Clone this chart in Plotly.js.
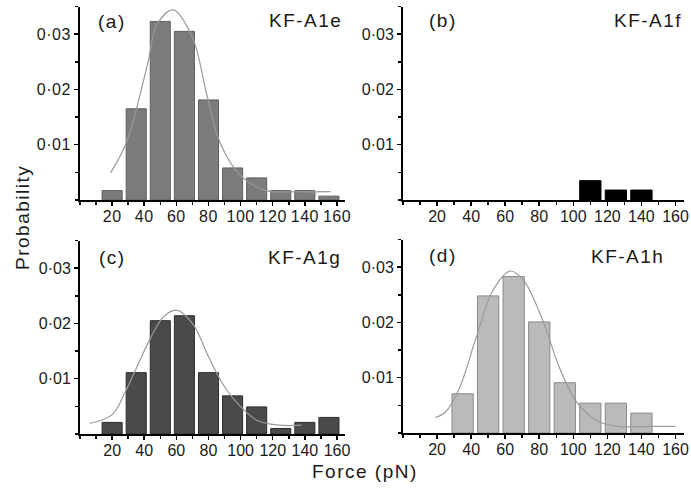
<!DOCTYPE html>
<html>
<head>
<meta charset="utf-8">
<script src="https://cdn.plot.ly/plotly-3.0.1.min.js"></script>
<style>
html,body{margin:0;padding:0;background:#fff;}
#chart{width:691px;height:488px;}
.annotation-text{letter-spacing:1.5px;}
.xtick text, .ytick text{letter-spacing:0.5px;}
</style>
</head>
<body>
<div id="chart"></div>
<script>
// ---- data ----
var binsA = [20, 35, 50, 65, 80, 95, 110, 125, 140, 155];
var probA = [0.0017, 0.0165, 0.0323, 0.0305, 0.0181, 0.0058, 0.0040, 0.0017, 0.0017, 0.0007];
var fitAx = [19, 29, 42, 48, 58, 70, 79, 87, 100, 116, 135, 156];
var fitAy = [0.0049, 0.0105, 0.0245, 0.0318, 0.0344, 0.0294, 0.0190, 0.0105, 0.0044, 0.0017, 0.0015, 0.0015];

var binsB = [110, 125, 140];
var probB = [0.0035, 0.0018, 0.0018];

var binsC = [20, 35, 50, 65, 80, 95, 110, 125, 140, 155];
var probC = [0.0021, 0.0111, 0.0205, 0.0214, 0.0111, 0.0069, 0.0049, 0.0010, 0.0021, 0.0030];
var fitCx = [6, 20, 28, 36, 43, 52, 60, 70, 80, 88, 96, 110, 124, 138];
var fitCy = [0.0019, 0.0035, 0.0075, 0.0125, 0.0168, 0.0212, 0.0224, 0.0200, 0.0140, 0.0095, 0.0062, 0.0025, 0.0016, 0.0016];

var binsD = [35, 50, 65, 80, 95, 110, 125, 140];
var probD = [0.0071, 0.0248, 0.0283, 0.0201, 0.0091, 0.0054, 0.0054, 0.0036];
var fitDx = [19, 25, 33, 43, 53, 63, 71, 82, 92, 102, 114, 126, 145, 160];
var fitDy = [0.0028, 0.0038, 0.0080, 0.0173, 0.0259, 0.0293, 0.0275, 0.0204, 0.0117, 0.0056, 0.0022, 0.0012, 0.0012, 0.0012];

var xTickVals = [20, 40, 60, 80, 100, 120, 140, 160];
var xTickText = ['20', '40', '60', '80', '100', '120', '140', '160'];
var yTickVals = [0.01, 0.02, 0.03];
var yTickText = ['0\u00b701', '0\u00b702', '0\u00b703'];

var panelLetters = ['(a)', '(b)', '(c)', '(d)'];
var panelNames = ['KF-A1e', 'KF-A1f', 'KF-A1g', 'KF-A1h'];
var xTitle = 'Force (pN)';
var yTitle = 'Probability';

// ---- traces ----
var binWidth = 12.5;
function bars(x, y, fill, edge, xa, ya) {
  return {type: 'bar', x: x, y: y, width: binWidth, xaxis: xa, yaxis: ya,
    marker: {color: fill, line: {color: edge, width: 1}}, hoverinfo: 'skip', showlegend: false};
}
function fit(x, y, xa, ya) {
  return {type: 'scatter', mode: 'lines', x: x, y: y, xaxis: xa, yaxis: ya,
    line: {color: '#9a9a9a', width: 1.2, shape: 'spline', smoothing: 1}, hoverinfo: 'skip', showlegend: false};
}
var data = [
  bars(binsA, probA, '#7c7c7c', '#5e5e5e', 'x', 'y'),
  fit(fitAx, fitAy, 'x', 'y'),
  bars(binsB, probB, '#000000', '#000000', 'x2', 'y2'),
  bars(binsC, probC, '#4a4a4a', '#2e2e2e', 'x3', 'y3'),
  fit(fitCx, fitCy, 'x3', 'y3'),
  bars(binsD, probD, '#bababa', '#8a8a8a', 'x4', 'y4'),
  fit(fitDx, fitDy, 'x4', 'y4')
];

var W = 691, H = 488;
function px(x) { return x / W; }
function py(y) { return 1 - y / H; }

var tickFont = {family: 'Liberation Sans, Arial, sans-serif', size: 16, color: '#1a1a1a'};
function xax(left, right, anchor) {
  return {domain: [px(left), px(right)], anchor: anchor, range: [0, 165],
    showline: true, linecolor: '#000', linewidth: 2, showgrid: false, zeroline: false,
    tickmode: 'array', tickvals: xTickVals, ticktext: xTickText,
    ticks: 'outside', ticklen: 4, tickwidth: 1.5, tickcolor: '#000', tickfont: tickFont,
    ticklabelstandoff: -3,
    minor: {tickmode: 'linear', tick0: 0, dtick: 10, ticks: 'outside', ticklen: 3, tickwidth: 1.5, tickcolor: '#000'},
    fixedrange: true};
}
function yax(bottom, top, anchor) {
  return {domain: [py(bottom), py(top)], anchor: anchor, range: [0, 0.035],
    showline: true, linecolor: '#000', linewidth: 2, showgrid: false, zeroline: false,
    tickmode: 'array', tickvals: yTickVals, ticktext: yTickText,
    ticks: 'outside', ticklen: 4, tickwidth: 1.5, tickcolor: '#000', tickfont: tickFont,
    minor: {tickmode: 'linear', tick0: 0, dtick: 0.005, ticks: 'outside', ticklen: 3, tickwidth: 1.5, tickcolor: '#000'},
    fixedrange: true};
}

var annFont = {family: 'Liberation Sans, Arial, sans-serif', size: 19, color: '#1a1a1a'};
function ann(text, x, y, xanchor) {
  return {text: text, xref: 'paper', yref: 'paper', x: px(x), y: py(y), xanchor: xanchor, yanchor: 'middle',
    showarrow: false, font: annFont};
}

var layout = {
  width: W, height: H,
  margin: {l: 0, r: 0, t: 0, b: 0},
  paper_bgcolor: '#fff', plot_bgcolor: '#fff',
  bargap: 0,
  xaxis: xax(80, 345, 'y'), yaxis: yax(200, 6.5, 'x'),
  xaxis2: xax(403, 684, 'y2'), yaxis2: yax(200, 6.5, 'x2'),
  xaxis3: xax(80, 345, 'y3'), yaxis3: yax(434, 240.5, 'x3'),
  xaxis4: xax(403, 684, 'y4'), yaxis4: yax(433, 239.5, 'x4'),
  annotations: [
    ann(panelLetters[0], 96, 21, 'left'), ann(panelNames[0], 344, 20.5, 'right'),
    ann(panelLetters[1], 427, 20, 'left'), ann(panelNames[1], 684, 20, 'right'),
    ann(panelLetters[2], 97, 257, 'left'), ann(panelNames[2], 343, 257, 'right'),
    ann(panelLetters[3], 427, 255, 'left'), ann(panelNames[3], 666, 256, 'right'),
    {text: yTitle, xref: 'paper', yref: 'paper', x: px(22), y: py(218), xanchor: 'center', yanchor: 'middle',
      textangle: -90, showarrow: false, font: {family: 'Liberation Sans, Arial, sans-serif', size: 19, color: '#1a1a1a'}},
    {text: xTitle, xref: 'paper', yref: 'paper', x: px(365), y: py(471), xanchor: 'center', yanchor: 'middle',
      showarrow: false, font: {family: 'Liberation Sans, Arial, sans-serif', size: 19, color: '#1a1a1a'}}
  ]
};

Plotly.newPlot('chart', data, layout, {displayModeBar: false, staticPlot: true});
</script>
</body>
</html>
